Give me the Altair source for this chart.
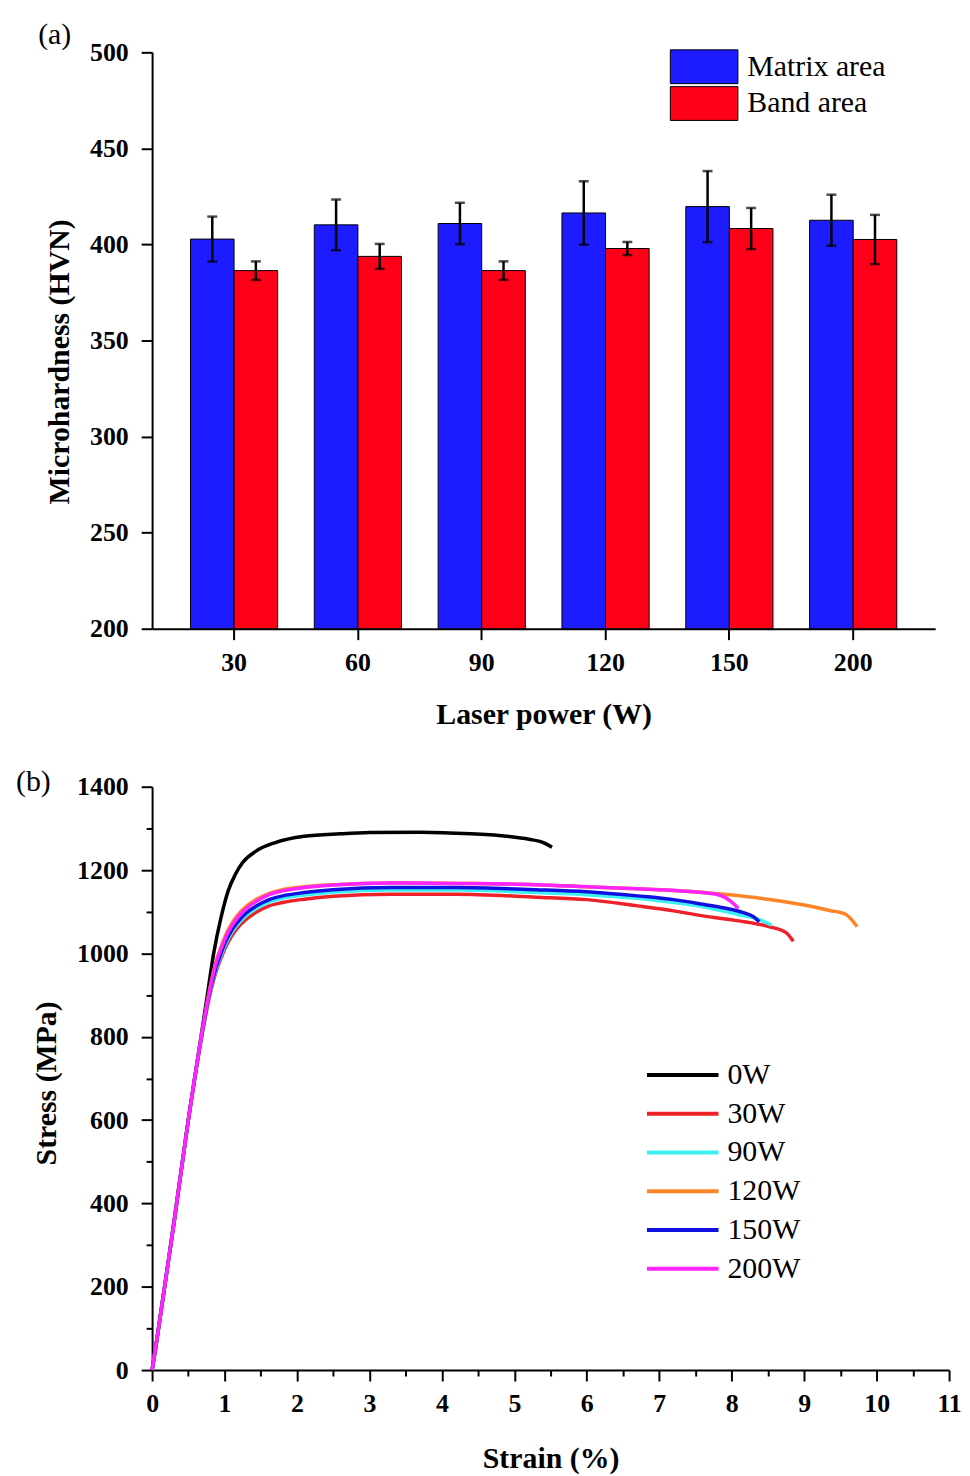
import altair as alt
import pandas as pd

FONT = "Liberation Serif"

# ---------------- panel (a) data ----------------
laser_power = ["30", "60", "90", "120", "150", "200"]
area_names = ["Matrix area", "Band area"]
area_colors = ["#1c1cff", "#ff0019"]
matrix_hv = [402.8, 410.2, 410.9, 416.4, 419.7, 412.6]
matrix_err = [11.7, 13.2, 10.8, 16.5, 18.5, 13.3]
band_hv = [386.4, 393.8, 386.4, 397.9, 408.3, 402.6]
band_err = [4.8, 6.5, 4.8, 3.4, 10.7, 12.8]
hv_ticks = [200, 250, 300, 350, 400, 450, 500]

# ---------------- panel (b) data ----------------
series_names = ["0W", "30W", "90W", "120W", "150W", "200W"]
series_colors = ["#000000", "#ee2028", "#3ff0f0", "#ff8427", "#1010e0", "#ff24ff"]

strain_0w = [0, 0.05, 0.3, 0.5, 0.75, 0.85, 0.95, 1.05, 1.15, 1.25, 1.43, 1.7, 2.1, 2.6, 3.0, 3.7, 4.4, 4.9, 5.2, 5.4, 5.52]
stress_0w = [0, 55, 355, 600, 885, 1000, 1085, 1150, 1190, 1218, 1245, 1266, 1281, 1287, 1290, 1291, 1287, 1281, 1274, 1266, 1255]

strain_30w = [0, 0.05, 0.3, 0.5, 0.7, 0.8, 0.88, 0.95, 1.02, 1.1, 1.18, 1.3, 1.43, 1.6, 1.8, 2.1, 2.5, 3.3, 4.2, 5.3, 6.0, 6.7, 7.2, 7.6, 8.1, 8.52, 8.75, 8.85]
stress_30w = [0, 55, 350, 600, 815, 903, 955, 988, 1017, 1042, 1061, 1082, 1098, 1113, 1122, 1130, 1137, 1142, 1142, 1135, 1129, 1114, 1102, 1090, 1078, 1064, 1050, 1029]

strain_90w = [0, 0.05, 0.3, 0.5, 0.7, 0.8, 0.88, 0.95, 1.02, 1.1, 1.18, 1.3, 1.43, 1.6, 1.8, 2.1, 2.5, 3.3, 4.2, 5.3, 6.0, 6.7, 7.2, 7.6, 8.07, 8.4, 8.55]
stress_90w = [0, 55, 350, 600, 817, 907, 960, 994, 1024, 1050, 1069, 1091, 1107, 1122, 1132, 1140, 1147, 1152, 1152, 1146, 1141, 1132, 1122, 1112, 1094, 1080, 1068]

strain_120w = [0, 0.05, 0.3, 0.5, 0.7, 0.8, 0.88, 0.95, 1.02, 1.1, 1.18, 1.3, 1.43, 1.6, 1.8, 2.1, 2.5, 3.3, 4.2, 5.3, 6.0, 6.7, 7.3, 7.9, 8.5, 9.0, 9.35, 9.57, 9.66, 9.73]
stress_120w = [0, 55, 350, 600, 822, 918, 979, 1015, 1046, 1072, 1092, 1113, 1129, 1143, 1153, 1160, 1165, 1169, 1168, 1165, 1160, 1155, 1150, 1142, 1130, 1116, 1103, 1094, 1080, 1064]

strain_150w = [0, 0.05, 0.3, 0.5, 0.7, 0.8, 0.88, 0.95, 1.02, 1.1, 1.18, 1.3, 1.43, 1.6, 1.8, 2.1, 2.5, 3.3, 4.2, 5.3, 6.0, 6.7, 7.2, 7.6, 7.9, 8.16, 8.3, 8.38]
stress_150w = [0, 55, 350, 600, 818, 910, 965, 1000, 1030, 1056, 1075, 1097, 1113, 1128, 1138, 1146, 1153, 1158, 1158, 1153, 1148, 1138, 1129, 1118, 1109, 1098, 1088, 1076]

strain_200w = [0, 0.05, 0.3, 0.5, 0.7, 0.8, 0.88, 0.95, 1.02, 1.1, 1.18, 1.3, 1.43, 1.6, 1.8, 2.1, 2.5, 3.3, 4.2, 5.3, 6.0, 6.7, 7.3, 7.6, 7.85, 7.98, 8.09]
stress_200w = [0, 55, 350, 600, 820, 915, 975, 1010, 1040, 1066, 1086, 1108, 1124, 1140, 1150, 1158, 1164, 1169, 1168, 1165, 1160, 1155, 1150, 1146, 1139, 1126, 1108]

strain_ticks = [i * 0.5 for i in range(23)]
stress_ticks = [i * 100 for i in range(15)]
panel_labels = ["(a)", "(b)"]

# ---------------- build tables ----------------
bar_rows = []
for i, p in enumerate(laser_power):
    bar_rows.append(dict(power=p, area=area_names[0], hv=matrix_hv[i],
                         lo=matrix_hv[i] - matrix_err[i], hi=matrix_hv[i] + matrix_err[i]))
    bar_rows.append(dict(power=p, area=area_names[1], hv=band_hv[i],
                         lo=band_hv[i] - band_err[i], hi=band_hv[i] + band_err[i]))
bar_df = pd.DataFrame(bar_rows)

curves = [(strain_0w, stress_0w), (strain_30w, stress_30w), (strain_90w, stress_90w),
          (strain_120w, stress_120w), (strain_150w, stress_150w), (strain_200w, stress_200w)]
line_rows = []
for name, (sx, sy) in zip(series_names, curves):
    for k, (a, b) in enumerate(zip(sx, sy)):
        line_rows.append(dict(series=name, strain=a, stress=b, idx=k))
line_df = pd.DataFrame(line_rows)

# ---------------- panel (a) ----------------
x_a = alt.X("power:N", sort=laser_power,
            scale=alt.Scale(paddingInner=0.296, paddingOuter=0.31),
            axis=alt.Axis(title="Laser power (W)", labelAngle=0, tickSize=11, labelPadding=10,
                          titleY=95, titleBaseline="alphabetic"))
xo_a = alt.XOffset("area:N", sort=area_names, scale=alt.Scale(paddingInner=0, paddingOuter=0))
y_scale_a = alt.Scale(domain=[200, 500], nice=False, zero=False)
y_axis_a = alt.Axis(values=hv_ticks, title="Microhardness (HVN)", tickSize=11, labelPadding=13,
                    format="d", titleX=-84, titleY=311, titleBaseline="alphabetic", titleAngle=270)

bars = alt.Chart(bar_df).mark_bar(stroke="black", strokeWidth=1).encode(
    x=x_a, xOffset=xo_a,
    y=alt.Y("hv:Q", scale=y_scale_a, axis=y_axis_a),
    y2=alt.datum(200),
    color=alt.Color("area:N", sort=area_names,
                    scale=alt.Scale(domain=area_names, range=area_colors),
                    legend=alt.Legend(title=None, orient="none", legendX=538, legendY=-3,
                                      symbolType="M-2,-1L2,-1L2,1L-2,1Z", symbolSize=1156,
                                      symbolStrokeColor="black", symbolStrokeWidth=1,
                                      labelFont=FONT, labelFontSize=30, labelFontWeight="normal",
                                      labelColor="black", labelOffset=26, rowPadding=-2, padding=0)),
)
err = alt.Chart(bar_df).mark_rule(color="black", strokeWidth=2.5).encode(
    x=x_a, xOffset=xo_a,
    y=alt.Y("lo:Q", scale=y_scale_a, axis=y_axis_a), y2="hi:Q")
cap_hi = alt.Chart(bar_df).mark_tick(color="black", thickness=2.5, size=10).encode(
    x=x_a, xOffset=xo_a, y=alt.Y("hi:Q", scale=y_scale_a, axis=y_axis_a))
cap_lo = alt.Chart(bar_df).mark_tick(color="black", thickness=2.5, size=10).encode(
    x=x_a, xOffset=xo_a, y=alt.Y("lo:Q", scale=y_scale_a, axis=y_axis_a))
label_a = alt.Chart(pd.DataFrame({"t": [panel_labels[0]]})).mark_text(
    font=FONT, fontSize=30, align="center", baseline="alphabetic", color="black").encode(
    text="t:N", x=alt.value(-98), y=alt.value(-8))

panel_a = alt.layer(bars, err, cap_hi, cap_lo, label_a).properties(width=788, height=580)

# ---------------- panel (b) ----------------
x_b = alt.X("strain:Q", scale=alt.Scale(domain=[0, 11], nice=False),
            axis=alt.Axis(values=strain_ticks, format="~g",
                          labelExpr="datum.value % 1 === 0 ? datum.label : ''",
                          tickSize={"condition": {"test": "datum.value % 1 !== 0", "value": 6}, "value": 11},
                          labelPadding=10, labelFlush=False, labelOverlap=False,
                          title="Strain (%)", titleY=98, titleBaseline="alphabetic"))
y_b = alt.Y("stress:Q", scale=alt.Scale(domain=[0, 1400], nice=False),
            axis=alt.Axis(values=stress_ticks, format="d",
                          labelExpr="datum.value % 200 === 0 ? datum.label : ''",
                          tickSize={"condition": {"test": "datum.value % 200 !== 0", "value": 6}, "value": 11},
                          labelPadding=13, labelFlush=False, labelOverlap=False,
                          title="Stress (MPa)", titleX=-97, titleY=298,
                          titleBaseline="alphabetic", titleAngle=270))
lines = alt.Chart(line_df).mark_line(strokeWidth=3.5, interpolate="monotone").encode(
    x=x_b, y=y_b, order="idx:Q",
    color=alt.Color("series:N", sort=series_names,
                    scale=alt.Scale(domain=series_names, range=series_colors),
                    legend=alt.Legend(title=None, orient="none", legendX=514, legendY=270,
                                      symbolType="M-2,0L2,0", symbolSize=1296, symbolStrokeWidth=4,
                                      labelFont=FONT, labelFontSize=30, labelFontWeight="normal",
                                      labelColor="black", labelOffset=25, rowPadding=4, padding=0)),
)
label_b = alt.Chart(pd.DataFrame({"t": [panel_labels[1]]})).mark_text(
    font=FONT, fontSize=30, align="center", baseline="alphabetic", color="black").encode(
    text="t:N", x=alt.value(-119.5), y=alt.value(4))

panel_b = alt.layer(lines, label_b).properties(width=802, height=587)

chart = alt.vconcat(panel_a, panel_b, spacing=38).properties(
    padding={"left": 8, "right": 0, "top": 8, "bottom": 0}
).resolve_scale(color="independent").configure_axis(
    domainColor="black", domainWidth=2, tickColor="black", tickWidth=2,
    labelColor="black", titleColor="black", labelFont=FONT, titleFont=FONT,
    labelFontSize=26, titleFontSize=30, labelFontWeight="bold", titleFontWeight="bold",
    grid=False
).configure_view(strokeWidth=0)

chart.save("out.html", embed_options={"renderer": "svg", "actions": False})
